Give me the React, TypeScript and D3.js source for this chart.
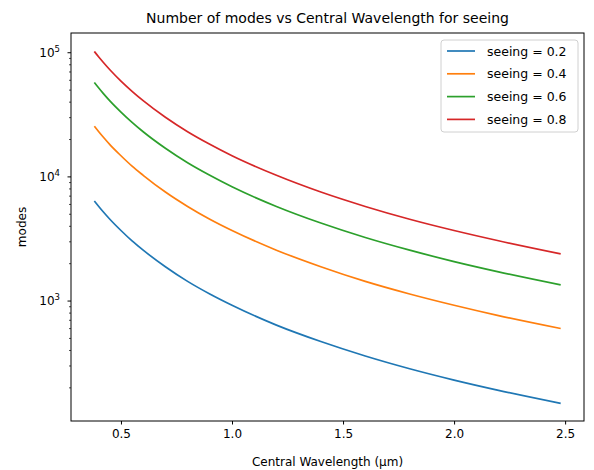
import React, { useEffect, useRef } from 'react';
import * as d3 from 'd3';

// wavelength samples (µm)
const wavelengths = [0.38, 0.4, 0.42, 0.45, 0.5, 0.55, 0.6, 0.7, 0.8, 0.9, 1.0, 1.2, 1.4, 1.6, 1.8, 2.0, 2.2, 2.48];

const seeing02 = [6400, 5780, 5240, 4560, 3700, 3050, 2570, 1890, 1440, 1140, 925, 640, 472, 361, 285, 231, 191, 150];
const seeing04 = [25600, 23100, 20950, 18200, 14800, 12200, 10300, 7550, 5780, 4560, 3700, 2570, 1890, 1440, 1140, 925, 764, 601];
const seeing06 = [57600, 52000, 47100, 41000, 33300, 27500, 23100, 17000, 13000, 10300, 8320, 5780, 4250, 3250, 2570, 2080, 1720, 1350];
const seeing08 = [102400, 92400, 83800, 72900, 59100, 48900, 41100, 30200, 23100, 18300, 14800, 10300, 7550, 5780, 4560, 3700, 3060, 2400];

const seriesNames = ['seeing = 0.2', 'seeing = 0.4', 'seeing = 0.6', 'seeing = 0.8'];
const xTicks = [0.5, 1.0, 1.5, 2.0, 2.5];
const yMajor = [3, 4, 5];

export default function App() {
  const svgRef = useRef<SVGSVGElement | null>(null);

  useEffect(() => {
    if (!svgRef.current) return;
    const svg = d3.select(svgRef.current);
    svg.selectAll('*').remove();

    const width = 594;
    const height = 470;
    const margin = { top: 33, right: 10, bottom: 49, left: 71 };
    const font = 'DejaVu Sans, sans-serif';
    const colors = ['#1f77b4', '#ff7f0e', '#2ca02c', '#d62728'];
    const allSeries = [seeing02, seeing04, seeing06, seeing08];

    // Scales (matplotlib-style 5% margins around the data)
    const x = d3.scaleLinear()
      .domain([0.275, 2.585])
      .range([margin.left, width - margin.right]);

    const y = d3.scaleLog()
      .domain([Math.pow(10, 2.034), Math.pow(10, 5.159)])
      .range([height - margin.bottom, margin.top]);

    svg.append('rect')
      .attr('width', width).attr('height', height).attr('fill', '#fff');

    // Lines
    const line = d3.line<number>()
      .x((d, i) => x(wavelengths[i]))
      .y(d => y(d))
      .curve(d3.curveMonotoneX);

    svg.append('g')
      .selectAll('path')
      .data(allSeries)
      .join('path')
      .attr('fill', 'none')
      .attr('stroke', (d, i) => colors[i])
      .attr('stroke-width', 1.7)
      .attr('d', d => line(d));

    // Frame
    svg.append('rect')
      .attr('x', margin.left)
      .attr('y', margin.top)
      .attr('width', width - margin.right - margin.left)
      .attr('height', height - margin.bottom - margin.top)
      .attr('fill', 'none')
      .attr('stroke', '#000')
      .attr('stroke-width', 1);

    // X axis
    const xAxis = svg.append('g')
      .attr('transform', `translate(0,${height - margin.bottom})`)
      .call(d3.axisBottom(x).tickValues(xTicks).tickFormat(d3.format('.1f')).tickSize(3.5).tickPadding(5));
    xAxis.select('.domain').remove();
    xAxis.selectAll('text')
      .attr('font-family', font)
      .attr('font-size', '12px')
      .attr('fill', '#000');

    // Y minor ticks
    const [y0, y1] = y.domain();
    const minor: number[] = [];
    for (let e = 2; e <= 5; e++) {
      for (let m = 2; m <= 9; m++) {
        const v = m * Math.pow(10, e);
        if (v >= y0 && v <= y1) minor.push(v);
      }
    }
    svg.append('g')
      .selectAll('line')
      .data(minor)
      .join('line')
      .attr('x1', margin.left - 2)
      .attr('x2', margin.left)
      .attr('y1', d => y(d))
      .attr('y2', d => y(d))
      .attr('stroke', '#000')
      .attr('stroke-width', 0.7);

    // Y major ticks
    const yg = svg.append('g');
    yg.selectAll('line')
      .data(yMajor)
      .join('line')
      .attr('x1', margin.left - 3.5)
      .attr('x2', margin.left)
      .attr('y1', d => y(Math.pow(10, d)))
      .attr('y2', d => y(Math.pow(10, d)))
      .attr('stroke', '#000');

    const labels = yg.selectAll('text')
      .data(yMajor)
      .join('text')
      .attr('x', 60)
      .attr('y', d => y(Math.pow(10, d)) + 4)
      .attr('text-anchor', 'end')
      .attr('font-family', font)
      .attr('font-size', '12px')
      .attr('fill', '#000');
    labels.append('tspan').text('10');
    labels.append('tspan')
      .attr('dy', -5)
      .attr('font-size', '8.5px')
      .text(d => String(d));

    // Titles
    svg.append('text')
      .attr('x', (margin.left + width - margin.right) / 2)
      .attr('y', 23)
      .attr('text-anchor', 'middle')
      .attr('font-family', font)
      .attr('font-size', '14px')
      .attr('fill', '#000')
      .text('Number of modes vs Central Wavelength for seeing');

    svg.append('text')
      .attr('x', (margin.left + width - margin.right) / 2)
      .attr('y', 466)
      .attr('text-anchor', 'middle')
      .attr('font-family', font)
      .attr('font-size', '12px')
      .attr('fill', '#000')
      .text('Central Wavelength (µm)');

    svg.append('text')
      .attr('transform', `translate(26,${(margin.top + height - margin.bottom) / 2}) rotate(-90)`)
      .attr('text-anchor', 'middle')
      .attr('font-family', font)
      .attr('font-size', '12px')
      .attr('fill', '#000')
      .text('modes');

    // Legend
    const lg = svg.append('g').attr('transform', 'translate(441,40)');
    lg.append('rect')
      .attr('width', 137)
      .attr('height', 92)
      .attr('rx', 3)
      .attr('fill', '#fff')
      .attr('fill-opacity', 0.8)
      .attr('stroke', '#d0d0d0');
    const items = lg.selectAll('g')
      .data(seriesNames)
      .join('g')
      .attr('transform', (d, i) => `translate(0,${11 + i * 22.8})`);
    items.append('line')
      .attr('x1', 6).attr('x2', 34)
      .attr('stroke', (d, i) => colors[i])
      .attr('stroke-width', 1.7);
    items.append('text')
      .attr('x', 46)
      .attr('y', 4.5)
      .attr('font-family', font)
      .attr('font-size', '12.5px')
      .attr('fill', '#000')
      .text(d => d);
  }, []);

  return (
    <svg ref={svgRef} width={594} height={470}
      style={{ position: 'absolute', left: 0, top: 0, display: 'block' }} />
  );
}
